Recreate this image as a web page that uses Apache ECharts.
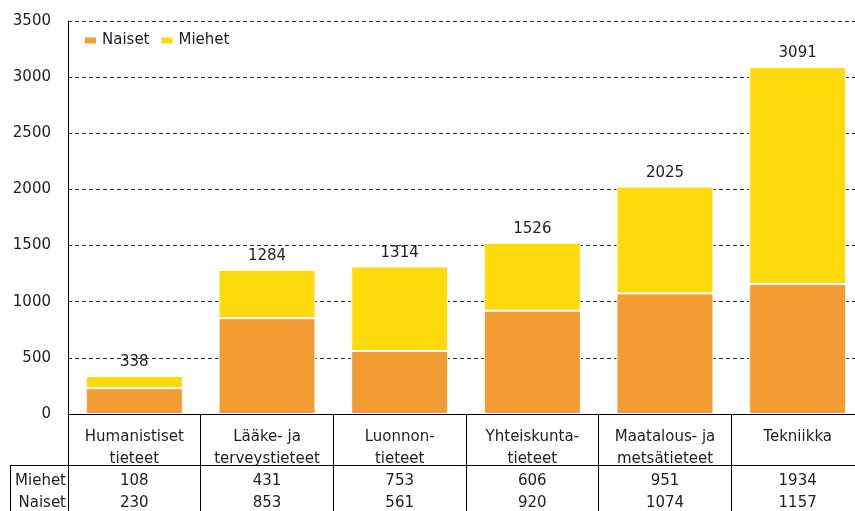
<!DOCTYPE html>
<html>
<head>
<meta charset="utf-8">
<script src="https://cdn.jsdelivr.net/npm/echarts@6/dist/echarts.min.js"></script>
<style>
  html, body { margin: 0; padding: 0; background: #fff; }
  #chart { width: 855px; height: 511px; }
</style>
</head>
<body>
<div id="chart"></div>
<script>
const categories = [
  'Humanistiset\ntieteet',
  'Lääke- ja\nterveystieteet',
  'Luonnon-\ntieteet',
  'Yhteiskunta-\ntieteet',
  'Maatalous- ja\nmetsätieteet',
  'Tekniikka',
]
const naiset = [230, 853, 561, 920, 1074, 1157]
const miehet = [108, 431, 753, 606, 951, 1934]
const totals = [338, 1284, 1314, 1526, 2025, 3091]
const rowNames = ['Miehet', 'Naiset']
const yMax = 3500
const yStep = 500

const ORANGE = '#F39C34'
const YELLOW = '#FFDB0E'
const TEXT = '#1e1e1e'
const FONT = 'DejaVu Sans'
const FS = 15

// table geometry (px)
const axisY = 414
const lineH = 22
const labelMargin = 12
const tableLineY = 465

const chart = echarts.init(document.getElementById('chart'))

function cellText(value, idx) {
  const lines = value.split('\n')
  if (lines.length === 1) lines.push(' ')
  return [...lines, miehet[idx], naiset[idx]].join('\n')
}

const rowTextY = (i) => axisY + labelMargin + lineH * (2 + i) + lineH / 2

chart.setOption({
  animation: false,
  textStyle: { fontFamily: FONT },
  legend: {
    left: 78,
    top: 28,
    itemWidth: 13,
    itemHeight: 8,
    itemGap: 10,
    icon: 'rect',
    textStyle: { fontSize: FS, color: TEXT, fontFamily: FONT },
    data: ['Naiset', 'Miehet'],
  },
  grid: { left: 68, right: -9, top: 21, bottom: 511 - axisY, outerBoundsMode: 'none' },
  xAxis: [
    {
      type: 'category',
      data: categories,
      axisLine: { lineStyle: { color: '#000', width: 1 } },
      axisTick: { show: true, interval: 0, length: 511 - axisY, lineStyle: { color: '#000', width: 1 } },
      axisLabel: {
        interval: 0,
        margin: labelMargin,
        fontSize: FS,
        lineHeight: lineH,
        color: TEXT,
        fontFamily: FONT,
        formatter: cellText,
      },
    },
    {
      type: 'category',
      data: categories,
      position: 'bottom',
      offset: tableLineY - axisY,
      axisLine: { lineStyle: { color: '#000', width: 1 } },
      axisTick: { show: false },
      axisLabel: { show: false },
    },
  ],
  yAxis: {
    type: 'value',
    min: 0,
    max: yMax,
    interval: yStep,
    axisLine: { show: true, lineStyle: { color: '#000', width: 1 } },
    axisTick: { show: false },
    axisLabel: { margin: 17, fontSize: FS, color: TEXT, fontFamily: FONT, formatter: (v) => String(v) },
    splitLine: { lineStyle: { color: '#333', type: [4, 3], width: 1 } },
  },
  graphic: [
    { type: 'line', shape: { x1: 10, y1: tableLineY + 0.5, x2: 68, y2: tableLineY + 0.5 }, style: { stroke: '#000', lineWidth: 1 } },
    { type: 'line', shape: { x1: 10.5, y1: tableLineY, x2: 10.5, y2: 511 }, style: { stroke: '#000', lineWidth: 1 } },
    ...rowNames.map((name, i) => ({
      type: 'text',
      x: 66,
      y: rowTextY(i),
      style: { text: name, fill: TEXT, font: `${FS}px "${FONT}"`, align: 'right', verticalAlign: 'middle' },
    })),
  ],
  series: [
    {
      name: 'Naiset',
      type: 'bar',
      stack: 'total',
      barWidth: 97,
      data: naiset,
      itemStyle: { color: ORANGE, borderColor: '#fff', borderWidth: 1 },
    },
    {
      name: 'Miehet',
      type: 'bar',
      stack: 'total',
      barWidth: 97,
      data: miehet,
      itemStyle: { color: YELLOW, borderColor: '#fff', borderWidth: 1 },
      label: {
        show: true,
        position: 'top',
        distance: 6,
        fontSize: FS,
        color: TEXT,
        fontFamily: FONT,
        formatter: (p) => totals[p.dataIndex],
      },
    },
  ],
})
</script>
</body>
</html>
